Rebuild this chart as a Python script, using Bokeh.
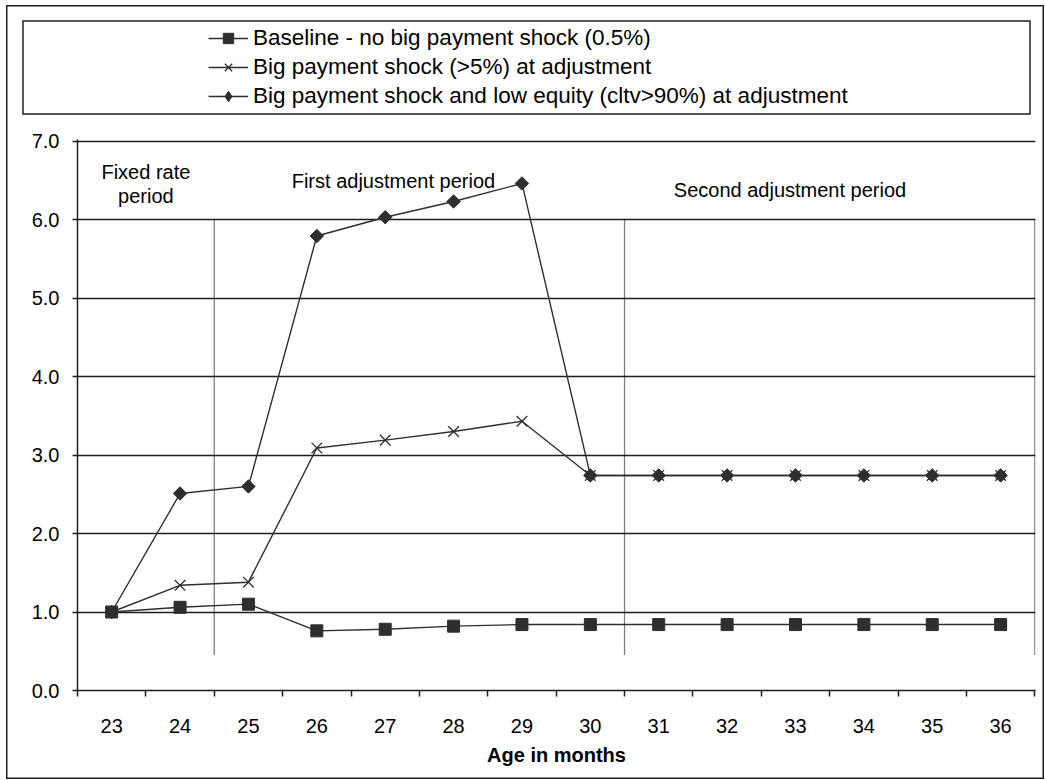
from bokeh.plotting import figure
from bokeh.layouts import column
from bokeh.models import (Range1d, FixedTicker, PrintfTickFormatter, Legend, LegendItem,
                          Label, ColumnDataSource)
from bokeh.embed import file_html
from bokeh.resources import INLINE
import math

# ---- data ----
months = [23, 24, 25, 26, 27, 28, 29, 30, 31, 32, 33, 34, 35, 36]
baseline = [1.00, 1.06, 1.10, 0.76, 0.78, 0.82, 0.84, 0.84, 0.84, 0.84, 0.84, 0.84, 0.84, 0.84]
shock = [1.00, 1.34, 1.38, 3.09, 3.19, 3.30, 3.43, 2.74, 2.74, 2.74, 2.74, 2.74, 2.74, 2.74]
shock_low_equity = [1.00, 2.51, 2.60, 5.79, 6.03, 6.23, 6.46, 2.74, 2.74, 2.74, 2.74, 2.74, 2.74, 2.74]
series_names = ["Baseline - no big payment shock (0.5%)",
                "Big payment shock (>5%) at adjustment",
                "Big payment shock and low equity (cltv>90%) at adjustment"]
y_ticks = [0, 1, 2, 3, 4, 5, 6, 7]
divider_x = [24.5, 30.5, 36.5]
divider_y0 = [0.46, 0.46, 0.46]
divider_y1 = [6.0, 6.0, 6.0]
period_texts = ["Fixed rate", "period", "First adjustment period", "Second adjustment period"]
period_x = [23.5, 23.5, 27.12, 32.92]
period_y = [6.60, 6.30, 6.49, 6.38]
x_label = "Age in months"

FONT = "Liberation Sans"
INK = "#2e2e2e"
FRAME = "#1e1e1e"

# ---------------- main chart ----------------
p = figure(width=1038, height=650,
           x_range=Range1d(22.5, 36.51), y_range=Range1d(0, 7.02),
           output_backend="svg", toolbar_location=None,
           min_border_left=71, min_border_right=9, min_border_top=10, min_border_bottom=89)
p.outline_line_color = None
p.background_fill_color = "white"
p.border_fill_color = None
# outer chart border (left, right, bottom sides)
p.styles = {"background": "#ffffff",
            "box-shadow": "inset 1.5px 0 0 0 #1e1e1e, inset -1.5px 0 0 0 #1e1e1e, "
                          "inset 0 -1.5px 0 0 #1e1e1e"}

p.xgrid.visible = False
p.ygrid.ticker = FixedTicker(ticks=y_ticks[1:])
p.ygrid.grid_line_color = FRAME
p.ygrid.grid_line_width = 1.5

p.xaxis.ticker = FixedTicker(ticks=months, minor_ticks=[m - 0.5 for m in months] + [months[-1] + 0.5])
p.xaxis.major_tick_out = 0
p.xaxis.major_tick_in = 0
p.xaxis.minor_tick_out = 6
p.xaxis.minor_tick_in = 0
p.xaxis.minor_tick_line_color = FRAME
p.xaxis.minor_tick_line_width = 1.5
p.xaxis.major_label_standoff = 22
p.xaxis.axis_label = x_label
p.xaxis.axis_label_standoff = 8
p.xaxis.axis_label_text_font = FONT
p.xaxis.axis_label_text_font_size = "20px"
p.xaxis.axis_label_text_font_style = "bold"
p.xaxis.axis_label_text_color = "black"

p.yaxis.ticker = FixedTicker(ticks=y_ticks)
p.yaxis.formatter = PrintfTickFormatter(format="%.1f")
p.yaxis.major_tick_out = 5
p.yaxis.major_tick_in = 0
p.yaxis.minor_tick_out = 0
p.yaxis.minor_tick_in = 0
p.yaxis.major_label_standoff = 13
p.yaxis.major_tick_line_color = FRAME
p.yaxis.major_tick_line_width = 1.5

for ax in (p.xaxis, p.yaxis):
    ax.axis_line_color = FRAME
    ax.axis_line_width = 1.5
    ax.major_label_text_font = FONT
    ax.major_label_text_font_size = "20px"
    ax.major_label_text_color = "black"

p.segment(x0=divider_x, y0=divider_y0, x1=divider_x, y1=divider_y1,
          line_color="#000000", line_width=1.3, line_dash="1 1")

src = ColumnDataSource(dict(m=months, b=baseline, s=shock, e=shock_low_equity))

line_kw = dict(line_color=INK, line_width=1.4)
mark_kw = [dict(marker="square", size=12, fill_color=INK, line_color=INK),
           dict(marker="x", size=15, line_color=INK, line_width=1.3),
           dict(marker="square", angle=math.pi / 4, size=9.5, fill_color=INK, line_color=INK)]
legend_mark_kw = [mark_kw[0], mark_kw[1],
                  dict(marker="diamond", size=12, fill_color=INK, line_color=INK)]
cols = ["b", "s", "e"]
for c, mk in zip(cols, mark_kw):
    p.line("m", c, source=src, **line_kw)
    p.scatter("m", c, source=src, **mk)

for t, x, y in zip(period_texts, period_x, period_y):
    p.add_layout(Label(x=x, y=y, text=t, text_align="center", text_baseline="alphabetic",
                       text_font=FONT, text_font_size="20px", text_color="black"))

# ---------------- legend panel ----------------
p0 = figure(width=1038, height=124, x_range=Range1d(0, 1), y_range=Range1d(0, 1),
            x_axis_type=None, y_axis_type=None,
            output_backend="svg", toolbar_location=None,
            min_border_left=71, min_border_right=9, min_border_top=16, min_border_bottom=15)
p0.outline_line_color = None
p0.background_fill_color = None
p0.border_fill_color = None
# outer chart border (top, left, right sides) and the legend box
p0.styles = {"background": "#ffffff",
             "box-shadow": "inset 0 1.5px 0 0 #1e1e1e, inset 1.5px 0 0 0 #1e1e1e, "
                           "inset -1.5px 0 0 0 #1e1e1e, "
                           "inset 1.5px 0.5px 0 14.75px #ffffff, "
                           "inset 1.5px 0.5px 0 16.25px #1e1e1e"}

items = []
for name, c, mk in zip(series_names, cols, legend_mark_kw):
    proxy = ColumnDataSource(dict(m=months[:1], v=src.data[c][:1]))
    rl = p0.line("m", "v", source=proxy, **line_kw)
    rm = p0.scatter("m", "v", source=proxy, **mk)
    items.append(LegendItem(label=name, renderers=[rl, rm]))

legend = Legend(items=items, location=(131, 5), orientation="vertical",
                border_line_alpha=0, background_fill_alpha=0,
                padding=0, margin=0, spacing=3,
                glyph_width=40, glyph_height=26, label_height=26, label_standoff=5,
                label_text_font=FONT, label_text_font_size="22.5px", label_text_color="black")
p0.add_layout(legend)

layout = column(p0, p, spacing=0, styles={"margin-left": "6px", "margin-top": "5px"})

open("out.html", "w").write(file_html(layout, INLINE))
